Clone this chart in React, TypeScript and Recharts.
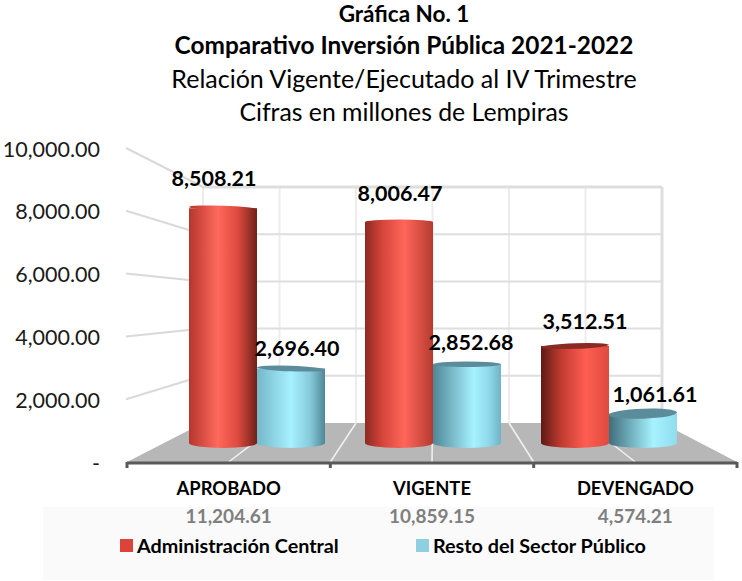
import React from "react";
import { ComposedChart, Bar, Line, XAxis, YAxis, Legend, LabelList } from "recharts";

const categories = ["APROBADO", "VIGENTE", "DEVENGADO"];
const totals = ["11,204.61", "10,859.15", "4,574.21"];
const adminCentral = [8508.21, 8006.47, 3512.51];
const restoSector = [2696.4, 2852.68, 1061.61];
const yTicks = [0, 2000, 4000, 6000, 8000, 10000];
const titleLines = [
  "Gráfica No. 1",
  "Comparativo Inversión Pública 2021-2022",
  "Relación Vigente/Ejecutado al IV Trimestre",
  "Cifras en millones de Lempiras",
];
const seriesNames = ["Administración Central", "Resto del Sector Público"];

const data = categories.map((category, i) => ({
  category,
  admin: adminCentral[i],
  resto: restoSector[i],
}));

const FONT = "Lato, 'Open Sans', sans-serif";
const RED = "#dc4439";
const BLUE = "#8ed0e0";

// perspective frame
const PLOT = { left: 127, right: 737, top: 149, bottom: 463 };
const WALL = { left: 203, right: 662, top: 187, bottom: 423 };
const FRONT_Y = 462;
const wallY = (v: number) => WALL.bottom - (v / 10000) * (WALL.bottom - WALL.top);
const labelY = (v: number) => PLOT.bottom - (v / 10000) * (PLOT.bottom - PLOT.top);
const DIVISIONS = [0, 1, 2, 3, 4, 5, 6];
const wallX = (d: number) => WALL.left + (d / 6) * (WALL.right - WALL.left);
const frontX = (d: number) => PLOT.left + (d / 6) * (PLOT.right - PLOT.left);

function Frame() {
  return (
    <g>
      <rect x={43} y={507} width={671} height={73} fill="#fafafa" />
      <polygon
        points={`${PLOT.left},${FRONT_Y} ${PLOT.right},${FRONT_Y} ${WALL.right},${WALL.bottom} ${WALL.left},${WALL.bottom}`}
        fill="#b7b7b7"
      />
      {DIVISIONS.map((d) => (
        <line key={"v" + d} x1={wallX(d)} x2={wallX(d)} y1={WALL.top} y2={WALL.bottom}
          stroke={d === 6 ? "#dedede" : "#ececec"} strokeWidth={d === 6 ? 3 : 2} />
      ))}
      {DIVISIONS.slice(1, 6).map((d) => (
        <line key={"f" + d} x1={frontX(d)} x2={wallX(d)} y1={FRONT_Y} y2={WALL.bottom} stroke="#f2f2f2" strokeWidth={1.5} />
      ))}
      {yTicks.slice(1).map((v) => (
        <g key={"h" + v}>
          <line x1={WALL.left} x2={WALL.right} y1={wallY(v)} y2={wallY(v)} stroke="#dedede" strokeWidth={v === 10000 ? 3 : 2} />
          <line x1={126} x2={WALL.left} y1={labelY(v) - 1} y2={wallY(v)} stroke="#d9d9d9" strokeWidth={2} />
        </g>
      ))}
    </g>
  );
}

const redStops = [
  [[0, "#b5362d"], [0.42, "#ff685c"], [0.72, "#de4a3f"], [1, "#6e2119"]],
  [[0, "#8c2a23"], [0.25, "#d5443a"], [0.58, "#ff665a"], [1, "#b63a30"]],
  [[0, "#5e1a15"], [0.3, "#c23b31"], [0.66, "#ff5e52"], [1, "#e04a3f"]],
];
const blueStops = [
  [[0, "#74b8ca"], [0.5, "#a6f0ff"], [0.78, "#86cadb"], [1, "#4f8797"]],
  [[0, "#4f8797"], [0.6, "#a6f2ff"], [0.82, "#8fd8ea"], [1, "#6fb3c6"]],
  [[0, "#3f6e7c"], [0.65, "#a6f2ff"], [1, "#8fdcee"]],
];

function Gradients() {
  const make = (id: string, stops: any[][]) =>
    stops.map((s, i) => (
      <linearGradient key={id + i} id={id + i} x1="0" x2="1" y1="0" y2="0">
        {s.map(([o, c]: any) => <stop key={o} offset={o} stopColor={c} />)}
      </linearGradient>
    ));
  return <defs>{make("red", redStops)}{make("blue", blueStops)}</defs>;
}

// tilt of the cap and base for each category, from the perspective of the camera
const TILT = [2, 0, -2];

function cylinder(kind: "red" | "blue", capDark: string) {
  return (p: any) => {
    const { x, y, width, height, index } = p;
    const cx = x + width / 2;
    const base = y + height;
    const baseRy = 5;
    const tall = y < 300;
    const capRy = tall ? 2.5 : y > 400 ? 5 : 2.8;
    const grad = `url(#${kind}${index})`;
    return (
      <g>
        <path
          d={`M${x},${y} L${x},${base} A${width / 2},${baseRy} 0 0 0 ${x + width},${base} L${x + width},${y} Z`}
          fill={grad}
        />
        <ellipse cx={cx} cy={y} rx={width / 2} ry={capRy}
          transform={`rotate(${TILT[index]} ${cx} ${y})`}
          fill={tall ? grad : capDark} />
      </g>
    );
  };
}

const labelShift = {
  admin: [[-9, -30], [1, -29], [10, -25]],
  resto: [[6, -21], [4, -22], [12, -20]],
};

function valueLabel(key: "admin" | "resto") {
  return (p: any) => {
    const { x, y, width, value, index } = p;
    const [dx, dy] = labelShift[key][index];
    return (
      <text x={x + width / 2 + dx} y={y + dy} textAnchor="middle" dominantBaseline="central"
        fontFamily={FONT} fontWeight={700} fontSize={21.5} fill="#000">
        {Number(value).toLocaleString("en-US", { minimumFractionDigits: 2, maximumFractionDigits: 2 })}
      </text>
    );
  };
}

const BAND = (PLOT.right - PLOT.left) / categories.length;

function CategoryTick(p: any) {
  const { x, index, payload } = p;
  const edges = index === 0 ? [x - BAND / 2, x + BAND / 2] : [x + BAND / 2];
  return (
    <g>
      {edges.map((e) => (
        <line key={e} x1={e} x2={e} y1={PLOT.bottom - 1} y2={PLOT.bottom + 5} stroke="#595959" strokeWidth={3} />
      ))}
      <text x={x} y={488} textAnchor="middle" dominantBaseline="central" fontFamily={FONT} fontWeight={700} fontSize={18.4} fill="#000">
        {payload.value}
      </text>
      <text x={x} y={515} textAnchor="middle" dominantBaseline="central" fontFamily={FONT} fontWeight={700} fontSize={19} fill="#7f7f7f">
        {totals[index]}
      </text>
    </g>
  );
}

function LegendContent({ payload }: any) {
  const lefts = [120, 416];
  const entries = (payload || []).filter((e: any) => seriesNames.includes(e.value));
  return (
    <div style={{ position: "relative", height: 24, width: 742 }}>
      {entries.map((e: any, i: number) => (
        <div key={e.value} style={{ position: "absolute", left: lefts[i], top: 0, display: "flex", alignItems: "center", height: 24, whiteSpace: "nowrap" }}>
          <span style={{ display: "inline-block", width: 13, height: 13, background: e.color, marginRight: 4 }} />
          <span style={{ fontFamily: FONT, fontWeight: 700, fontSize: 19.8, color: "#000" }}>{e.value}</span>
        </div>
      ))}
    </div>
  );
}

const titleSizes = [22.5, 24.4, 25, 24.8];
const titleYs = [13.5, 44.5, 78, 111.5];

export default function App() {
  return (
    <div style={{ position: "absolute", left: 0, top: 0, width: 742, height: 581, background: "#fff", overflow: "hidden" }}>
      <ComposedChart
        width={742}
        height={581}
        data={data}
        barCategoryGap={0}
        barGap={0}
        margin={{ top: PLOT.top, right: 742 - PLOT.right, bottom: 581 - PLOT.bottom - 30, left: 0 }}
      >
        <Gradients />
        <Frame />
        <XAxis xAxisId="bars" dataKey="category" hide height={0} padding={{ left: 42, right: 40 }} />
        <XAxis xAxisId="labels" dataKey="category" height={30} axisLine={{ stroke: "#595959", strokeWidth: 3 }} tickLine={false} tick={CategoryTick} interval={0} />
        <YAxis
          yAxisId="labels"
          width={127}
          domain={[0, 10000]}
          ticks={yTicks}
          interval={0}
          axisLine={false}
          tickLine={false}
          tickMargin={21}
          tick={{ fontFamily: FONT, fontSize: 21.5, fill: "#1a1a1a" }}
          tickFormatter={(v: number) =>
            v === 0 ? "-" : v.toLocaleString("en-US", { minimumFractionDigits: 2 })
          }
        />
        <YAxis yAxisId="bars" hide width={0} domain={[-725, 10652]} allowDataOverflow />
        <Line
          xAxisId="labels"
          yAxisId="labels"
          dataKey="admin"
          stroke="none"
          dot={false}
          activeDot={false}
          legendType="none"
          isAnimationActive={false}
        />
        <Bar
          xAxisId="bars"
          yAxisId="bars"
          dataKey="admin"
          name={seriesNames[0]}
          fill={RED}
          barSize={68}
          isAnimationActive={false}
          shape={cylinder("red", "#8a2a24")}
        >
          <LabelList dataKey="admin" content={valueLabel("admin")} />
        </Bar>
        <Bar
          xAxisId="bars"
          yAxisId="bars"
          dataKey="resto"
          name={seriesNames[1]}
          fill={BLUE}
          barSize={68}
          isAnimationActive={false}
          shape={cylinder("blue", "#5b8c9c")}
        >
          <LabelList dataKey="resto" content={valueLabel("resto")} />
        </Bar>
        <Legend
          layout="horizontal"
          verticalAlign="middle"
          align="center"
          wrapperStyle={{ top: 533, left: 0, width: 742 }}
          content={LegendContent}
        />
        {titleLines.map((t, i) => (
          <text key={t} x={404} y={titleYs[i]} textAnchor="middle" dominantBaseline="central"
            fontFamily={FONT} fontSize={titleSizes[i]} fontWeight={i < 2 ? 700 : 400} fill="#000">
            {t}
          </text>
        ))}
      </ComposedChart>
    </div>
  );
}
